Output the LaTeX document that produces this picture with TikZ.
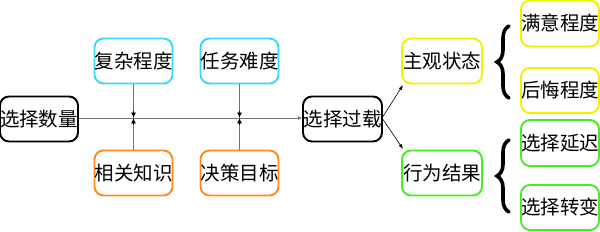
\documentclass[tikz,border=0pt]{standalone}
\usepackage{fontspec}
\setmainfont{Noto Sans CJK SC}
\usetikzlibrary{arrows.meta,decorations.pathreplacing}
\definecolor{cyanb}{HTML}{38D8FA}
\definecolor{orangeb}{HTML}{FF8A1E}
\definecolor{yellowb}{HTML}{F2F200}
\definecolor{greenb}{HTML}{44EE22}
\tikzset{
  box/.style={draw,rounded corners=9pt,line width=1.9pt,inner sep=0pt,
    minimum width=77pt,minimum height=45pt,font=\fontsize{19.5}{21}\selectfont},
  link/.style={draw=black!55,line width=0.8pt},
  tinyarrow/.style={-{Latex[length=5pt,width=5pt]},black,line width=0.7pt},
  bracestyle/.style={decorate,decoration={brace,amplitude=12pt},line width=3.6pt,line cap=round}
}
\begin{document}
\begin{tikzpicture}[x=1pt,y=1pt]
\useasboundingbox (0,0) rectangle (600,232);
% nodes (y = 232 - pixel y)
\node[box,draw=black,minimum width=77pt] (n1) at (39,113) {选择数量};
\node[box,draw=cyanb] (c1) at (133.5,171) {复杂程度};
\node[box,draw=cyanb] (c2) at (239.5,171) {任务难度};
\node[box,draw=orangeb] (o1) at (133.5,59) {相关知识};
\node[box,draw=orangeb] (o2) at (239.5,59) {决策目标};
\node[box,draw=black,minimum width=79pt] (n2) at (342.5,113) {选择过载};
\node[box,draw=yellowb,minimum width=80pt] (y1) at (442,171) {主观状态};
\node[box,draw=greenb,minimum width=80pt] (g1) at (442,59) {行为结果};
\node[box,draw=yellowb,minimum width=76pt,minimum height=46pt] (y2) at (560,208.5) {满意程度};
\node[box,draw=yellowb,minimum width=76pt] (y3) at (560,141.5) {后悔程度};
\node[box,draw=greenb,minimum width=76pt,minimum height=46pt] (g2) at (560,89) {选择延迟};
\node[box,draw=greenb,minimum width=76pt] (g3) at (560,24.5) {选择转变};
% main line
\coordinate (m1) at (133.5,114);
\coordinate (m2) at (239.5,114);
\draw[link,-{Latex[length=4pt,width=4pt]}] (n1.east|-m1) -- (n2.west|-m1);
\draw[link] (c1.south) -- (m1);
\draw[link] (o1.north) -- (m1);
\draw[link] (c2.south) -- (m2);
\draw[link] (o2.north) -- (m2);
\draw[tinyarrow] ([yshift=7pt]m1) -- ([yshift=0.4pt]m1);
\draw[tinyarrow] ([yshift=-7pt]m1) -- ([yshift=-0.4pt]m1);
\draw[tinyarrow] ([yshift=7pt]m2) -- ([yshift=0.4pt]m2);
\draw[tinyarrow] ([yshift=-7pt]m2) -- ([yshift=-0.4pt]m2);
% branches
\coordinate (s) at (382,114);
\coordinate (t1) at (403,147);
\coordinate (t2) at (403,83);
\draw[line width=0.6pt,-{Latex[length=5pt,width=3.5pt]}] (s) -- (t1);
\draw[line width=0.6pt,-{Latex[length=5pt,width=3.5pt]}] (s) -- (t2);
% braces
\coordinate (b1s) at (509,134);
\coordinate (b1e) at (509,206);
\coordinate (b2s) at (509,20);
\coordinate (b2e) at (509,92);
\draw[bracestyle] (b1s) -- (b1e);
\draw[bracestyle] (b2s) -- (b2e);
\end{tikzpicture}
\end{document}
